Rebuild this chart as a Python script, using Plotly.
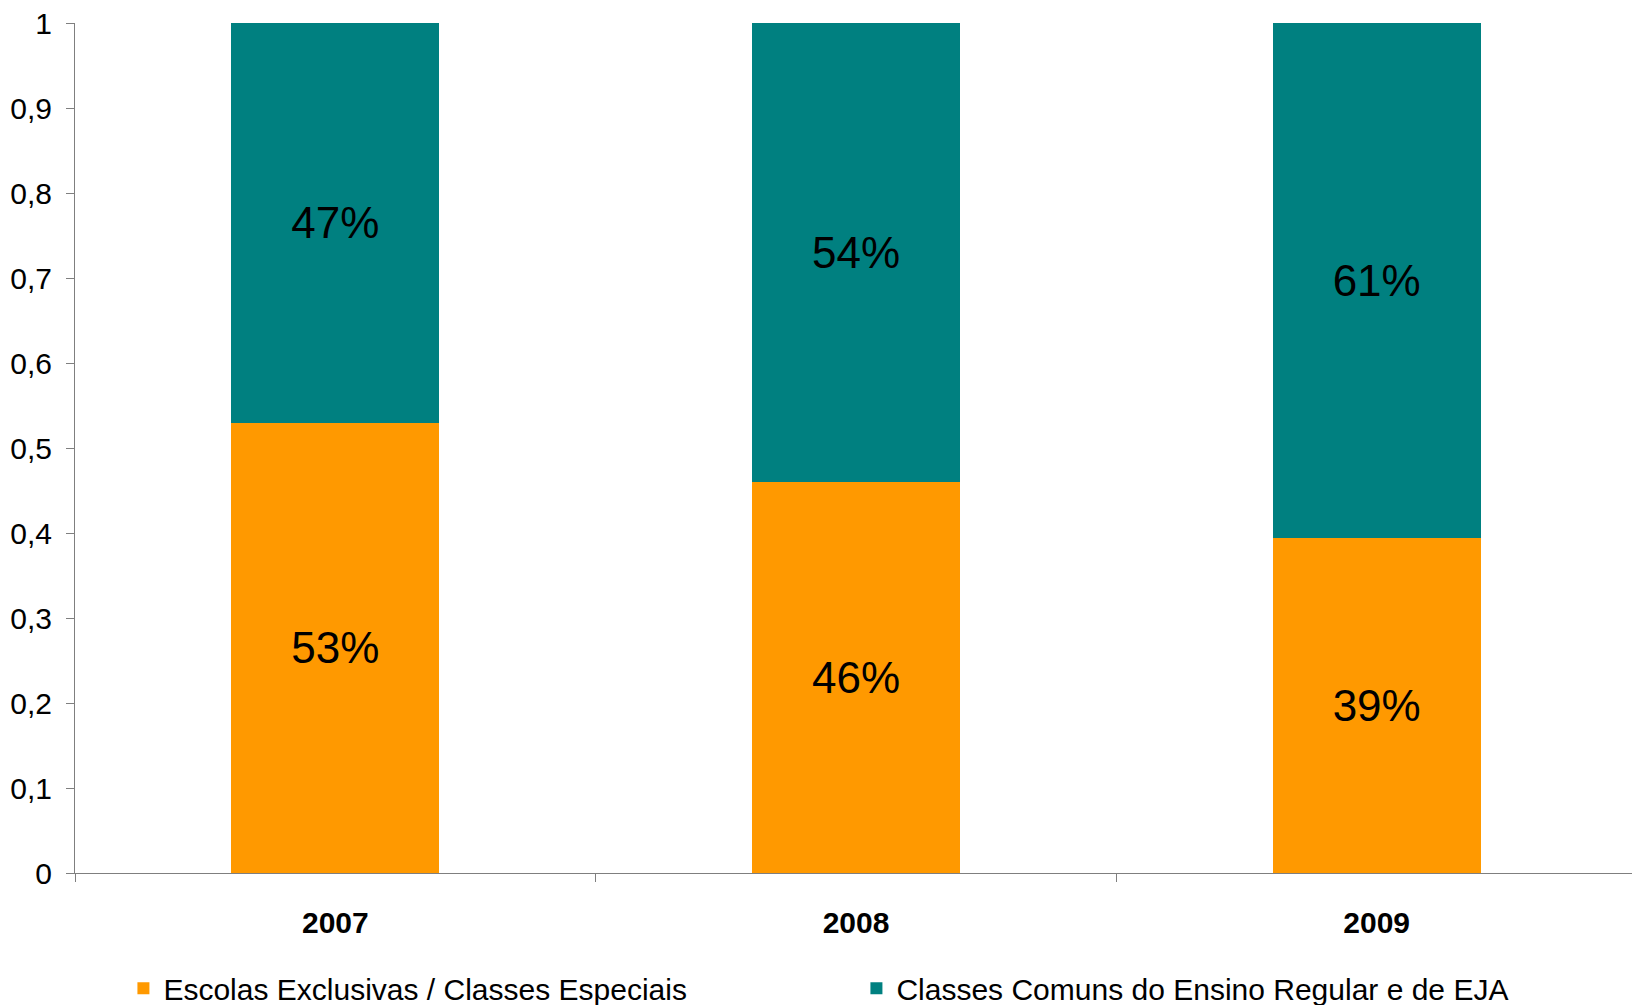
import plotly.graph_objects as go

years = ["2007", "2008", "2009"]
series_names = ["Escolas Exclusivas / Classes Especiais",
                "Classes Comuns do Ensino Regular e de EJA"]
escolas_exclusivas = [0.53, 0.46, 0.394]
classes_comuns = [0.47, 0.54, 0.606]
colors = ["#FF9900", "#008080"]
y_ticks = [0, 0.1, 0.2, 0.3, 0.4, 0.5, 0.6, 0.7, 0.8, 0.9, 1]

FONT = "Liberation Sans, Arial, sans-serif"

fig = go.Figure()
for name, vals, col in zip(series_names, [escolas_exclusivas, classes_comuns], colors):
    fig.add_trace(go.Bar(
        x=years, y=vals, name=name,
        marker=dict(color=col, line=dict(width=0)),
        texttemplate="%{y:.0%}", textposition="inside",
        insidetextanchor="middle", constraintext="none",
        textfont=dict(family=FONT, size=44, color="black"),
        hoverinfo="skip",
    ))

fig.update_layout(
    template="none",
    barmode="stack",
    bargap=0.6,
    width=1632, height=997,
    margin=dict(l=67, r=3, t=15, b=132, autoexpand=False),
    paper_bgcolor="white", plot_bgcolor="white",
    separators=", ",
    font=dict(family=FONT, size=30, color="black"),
    showlegend=True,
    legend=dict(
        orientation="h", x=0.031, xanchor="left", y=-0.105, yanchor="top",
        font=dict(family=FONT, size=30, color="black"),
        entrywidth=688, traceorder="normal",
        bgcolor="rgba(0,0,0,0)",
    ),
)
fig.update_xaxes(
    type="category",
    automargin=False,
    showline=True, linecolor="#7f7f7f", linewidth=1,
    ticks="outside", tickson="boundaries", ticklen=8, tickcolor="#7f7f7f",
    showgrid=False, zeroline=False,
    tickfont=dict(family=FONT, size=30, color="black", weight="bold"),
    ticklabelstandoff=23, ticklabeloverflow="allow",
)
fig.update_yaxes(
    automargin=False,
    range=[0, 1], tickvals=y_ticks,
    showline=True, linecolor="#7f7f7f", linewidth=1,
    ticks="outside", ticklen=8, tickcolor="#7f7f7f",
    showgrid=False, zeroline=False,
    tickfont=dict(family=FONT, size=30, color="black"),
    ticklabelstandoff=8, ticklabeloverflow="allow",
)

fig.write_html("out.html")
